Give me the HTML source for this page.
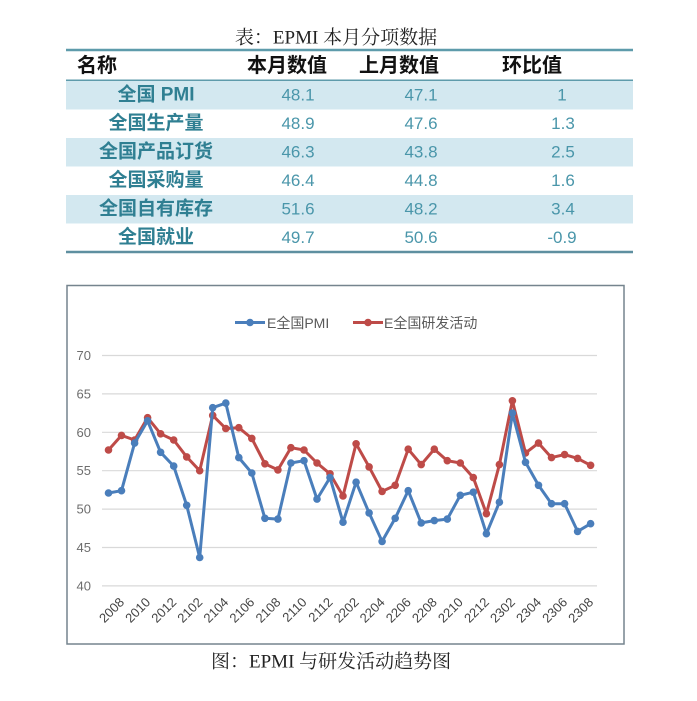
<!DOCTYPE html>
<html><head><meta charset="utf-8">
<style>
html,body{margin:0;padding:0;background:#fff;}
svg{display:block;}
.cj{font-family:"Liberation Sans","Noto Sans CJK SC",sans-serif;}
.sf{font-family:"Liberation Serif","Noto Serif CJK SC",serif;}
</style></head>
<body>
<svg width="697" height="701" viewBox="0 0 697 701" xmlns="http://www.w3.org/2000/svg">
<rect width="697" height="701" fill="#fff"/>
<!-- Table title -->
<text x="336" y="38" class="sf" font-size="19" fill="#222" text-anchor="middle" dominant-baseline="central">表：EPMI 本月分项数据</text>
<!-- bands -->
<rect x="66" y="81" width="567" height="28.5" fill="#d3e8f0"/>
<rect x="66" y="138" width="567" height="28.5" fill="#d3e8f0"/>
<rect x="66" y="195" width="567" height="28.5" fill="#d3e8f0"/>
<!-- lines -->
<line x1="66" y1="50" x2="633" y2="50" stroke="#5e9bab" stroke-width="2.5"/>
<line x1="66" y1="80.3" x2="633" y2="80.3" stroke="#5e9bab" stroke-width="1.5"/>
<line x1="66" y1="252" x2="633" y2="252" stroke="#5e8fa0" stroke-width="2.5"/>
<!-- header -->
<g class="cj" font-size="20" font-weight="bold" fill="#111" dominant-baseline="central">
<text x="77" y="66">名称</text>
<text x="287" y="66" text-anchor="middle">本月数值</text>
<text x="399" y="66" text-anchor="middle">上月数值</text>
<text x="532" y="66" text-anchor="middle">环比值</text>
</g>
<!-- names -->
<g class="cj" font-size="19" font-weight="bold" fill="#2f7f92" text-anchor="middle" dominant-baseline="central">
<text x="156" y="95.2">全国 PMI</text>
<text x="156" y="123.7">全国生产量</text>
<text x="156" y="152.2">全国产品订货</text>
<text x="156" y="180.7">全国采购量</text>
<text x="156" y="209.2">全国自有库存</text>
<text x="156" y="237.7">全国就业</text>
</g>
<g class="cj" font-size="17" fill="#4a96aa" text-anchor="middle" dominant-baseline="central">
<text x="298" y="95.2">48.1</text><text x="421" y="95.2">47.1</text><text x="562" y="95.2">1</text>
<text x="298" y="123.7">48.9</text><text x="421" y="123.7">47.6</text><text x="563" y="123.7">1.3</text>
<text x="298" y="152.2">46.3</text><text x="421" y="152.2">43.8</text><text x="563" y="152.2">2.5</text>
<text x="298" y="180.7">46.4</text><text x="421" y="180.7">44.8</text><text x="563" y="180.7">1.6</text>
<text x="298" y="209.2">51.6</text><text x="421" y="209.2">48.2</text><text x="563" y="209.2">3.4</text>
<text x="298" y="237.7">49.7</text><text x="421" y="237.7">50.6</text><text x="562" y="237.7">-0.9</text>
</g>

<!-- Chart frame -->
<rect x="67" y="285.5" width="557" height="358.5" fill="#fff" stroke="#75848e" stroke-width="1.5"/>
<!-- gridlines -->
<g stroke="#d9d9d9" stroke-width="1.2">
<line x1="102" y1="355.5" x2="597" y2="355.5"/>
<line x1="102" y1="393.9" x2="597" y2="393.9"/>
<line x1="102" y1="432.3" x2="597" y2="432.3"/>
<line x1="102" y1="470.7" x2="597" y2="470.7"/>
<line x1="102" y1="509.1" x2="597" y2="509.1"/>
<line x1="102" y1="547.5" x2="597" y2="547.5"/>
<line x1="102" y1="585.9" x2="597" y2="585.9"/>
</g>
<g class="cj" font-size="13" fill="#6d6d6d" text-anchor="end" dominant-baseline="central">
<text x="91" y="355.5">70</text>
<text x="91" y="393.9">65</text>
<text x="91" y="432.3">60</text>
<text x="91" y="470.7">55</text>
<text x="91" y="509.1">50</text>
<text x="91" y="547.5">45</text>
<text x="91" y="585.9">40</text>
</g>
<!-- x labels -->
<g class="cj" font-size="13" fill="#444" text-anchor="end">
<text transform="translate(125,603) rotate(-45)">2008</text>
<text transform="translate(151.1,603) rotate(-45)">2010</text>
<text transform="translate(177.2,603) rotate(-45)">2012</text>
<text transform="translate(203.2,603) rotate(-45)">2102</text>
<text transform="translate(229.3,603) rotate(-45)">2104</text>
<text transform="translate(255.3,603) rotate(-45)">2106</text>
<text transform="translate(281.4,603) rotate(-45)">2108</text>
<text transform="translate(307.5,603) rotate(-45)">2110</text>
<text transform="translate(333.5,603) rotate(-45)">2112</text>
<text transform="translate(359.6,603) rotate(-45)">2202</text>
<text transform="translate(385.6,603) rotate(-45)">2204</text>
<text transform="translate(411.7,603) rotate(-45)">2206</text>
<text transform="translate(437.8,603) rotate(-45)">2208</text>
<text transform="translate(463.8,603) rotate(-45)">2210</text>
<text transform="translate(489.9,603) rotate(-45)">2212</text>
<text transform="translate(515.9,603) rotate(-45)">2302</text>
<text transform="translate(542,603) rotate(-45)">2304</text>
<text transform="translate(568.1,603) rotate(-45)">2306</text>
<text transform="translate(594.1,603) rotate(-45)">2308</text>
</g>
<!-- legend -->
<line x1="235" y1="322.5" x2="265" y2="322.5" stroke="#4a7ebb" stroke-width="3"/>
<circle cx="250" cy="322.5" r="3.8" fill="#4a7ebb"/>
<text x="267" y="323" class="cj" font-size="14" fill="#595959" dominant-baseline="central">E全国PMI</text>
<line x1="353" y1="322.5" x2="383" y2="322.5" stroke="#be4b48" stroke-width="3"/>
<circle cx="368" cy="322.5" r="3.8" fill="#be4b48"/>
<text x="384" y="323" class="cj" font-size="14" fill="#595959" dominant-baseline="central">E全国研发活动</text>

<!-- red series -->
<g fill="#be4b48">
<polyline fill="none" stroke="#be4b48" stroke-width="3" stroke-linejoin="round" points="108.5,450.0 121.5,435.4 134.6,440.0 147.6,417.7 160.6,433.8 173.7,440.0 186.7,456.9 199.7,470.7 212.7,415.4 225.8,428.5 238.8,427.7 251.8,438.4 264.9,463.8 277.9,469.9 290.9,447.7 304.0,450.0 317.0,463.0 330.0,473.8 343.0,496.0 356.1,443.8 369.1,466.9 382.1,491.4 395.2,485.3 408.2,449.2 421.2,464.6 434.3,449.2 447.3,460.7 460.3,463.0 473.3,477.6 486.4,513.7 499.4,464.6 512.4,400.8 525.5,453.0 538.5,443.1 551.5,457.6 564.6,454.6 577.6,458.4 590.6,465.3"/>
<circle cx="108.5" cy="450.0" r="3.8"/><circle cx="121.5" cy="435.4" r="3.8"/><circle cx="134.6" cy="440.0" r="3.8"/><circle cx="147.6" cy="417.7" r="3.8"/><circle cx="160.6" cy="433.8" r="3.8"/><circle cx="173.7" cy="440.0" r="3.8"/><circle cx="186.7" cy="456.9" r="3.8"/><circle cx="199.7" cy="470.7" r="3.8"/><circle cx="212.7" cy="415.4" r="3.8"/><circle cx="225.8" cy="428.5" r="3.8"/><circle cx="238.8" cy="427.7" r="3.8"/><circle cx="251.8" cy="438.4" r="3.8"/><circle cx="264.9" cy="463.8" r="3.8"/><circle cx="277.9" cy="469.9" r="3.8"/><circle cx="290.9" cy="447.7" r="3.8"/><circle cx="304.0" cy="450.0" r="3.8"/><circle cx="317.0" cy="463.0" r="3.8"/><circle cx="330.0" cy="473.8" r="3.8"/><circle cx="343.0" cy="496.0" r="3.8"/><circle cx="356.1" cy="443.8" r="3.8"/><circle cx="369.1" cy="466.9" r="3.8"/><circle cx="382.1" cy="491.4" r="3.8"/><circle cx="395.2" cy="485.3" r="3.8"/><circle cx="408.2" cy="449.2" r="3.8"/><circle cx="421.2" cy="464.6" r="3.8"/><circle cx="434.3" cy="449.2" r="3.8"/><circle cx="447.3" cy="460.7" r="3.8"/><circle cx="460.3" cy="463.0" r="3.8"/><circle cx="473.3" cy="477.6" r="3.8"/><circle cx="486.4" cy="513.7" r="3.8"/><circle cx="499.4" cy="464.6" r="3.8"/><circle cx="512.4" cy="400.8" r="3.8"/><circle cx="525.5" cy="453.0" r="3.8"/><circle cx="538.5" cy="443.1" r="3.8"/><circle cx="551.5" cy="457.6" r="3.8"/><circle cx="564.6" cy="454.6" r="3.8"/><circle cx="577.6" cy="458.4" r="3.8"/><circle cx="590.6" cy="465.3" r="3.8"/>
</g>
<!-- blue series -->
<g fill="#4a7ebb">
<polyline fill="none" stroke="#4a7ebb" stroke-width="3" stroke-linejoin="round" points="108.5,493.0 121.5,490.7 134.6,443.1 147.6,420.8 160.6,452.3 173.7,466.1 186.7,505.3 199.7,557.5 212.7,407.7 225.8,403.1 238.8,457.6 251.8,473.0 264.9,518.3 277.9,519.1 290.9,463.0 304.0,460.7 317.0,499.1 330.0,477.6 343.0,522.2 356.1,482.2 369.1,512.9 382.1,541.4 395.2,518.3 408.2,490.7 421.2,522.9 434.3,520.6 447.3,519.1 460.3,495.3 473.3,492.2 486.4,533.7 499.4,502.2 512.4,413.1 525.5,462.3 538.5,485.3 551.5,503.7 564.6,503.7 577.6,531.4 590.6,523.7"/>
<circle cx="108.5" cy="493.0" r="3.8"/><circle cx="121.5" cy="490.7" r="3.8"/><circle cx="134.6" cy="443.1" r="3.8"/><circle cx="147.6" cy="420.8" r="3.8"/><circle cx="160.6" cy="452.3" r="3.8"/><circle cx="173.7" cy="466.1" r="3.8"/><circle cx="186.7" cy="505.3" r="3.8"/><circle cx="199.7" cy="557.5" r="3.8"/><circle cx="212.7" cy="407.7" r="3.8"/><circle cx="225.8" cy="403.1" r="3.8"/><circle cx="238.8" cy="457.6" r="3.8"/><circle cx="251.8" cy="473.0" r="3.8"/><circle cx="264.9" cy="518.3" r="3.8"/><circle cx="277.9" cy="519.1" r="3.8"/><circle cx="290.9" cy="463.0" r="3.8"/><circle cx="304.0" cy="460.7" r="3.8"/><circle cx="317.0" cy="499.1" r="3.8"/><circle cx="330.0" cy="477.6" r="3.8"/><circle cx="343.0" cy="522.2" r="3.8"/><circle cx="356.1" cy="482.2" r="3.8"/><circle cx="369.1" cy="512.9" r="3.8"/><circle cx="382.1" cy="541.4" r="3.8"/><circle cx="395.2" cy="518.3" r="3.8"/><circle cx="408.2" cy="490.7" r="3.8"/><circle cx="421.2" cy="522.9" r="3.8"/><circle cx="434.3" cy="520.6" r="3.8"/><circle cx="447.3" cy="519.1" r="3.8"/><circle cx="460.3" cy="495.3" r="3.8"/><circle cx="473.3" cy="492.2" r="3.8"/><circle cx="486.4" cy="533.7" r="3.8"/><circle cx="499.4" cy="502.2" r="3.8"/><circle cx="512.4" cy="413.1" r="3.8"/><circle cx="525.5" cy="462.3" r="3.8"/><circle cx="538.5" cy="485.3" r="3.8"/><circle cx="551.5" cy="503.7" r="3.8"/><circle cx="564.6" cy="503.7" r="3.8"/><circle cx="577.6" cy="531.4" r="3.8"/><circle cx="590.6" cy="523.7" r="3.8"/>
</g>

<!-- caption -->
<text x="211" y="662" class="sf" font-size="19" fill="#222" dominant-baseline="central">图：EPMI 与研发活动趋势图</text>
</svg>
</body></html>
